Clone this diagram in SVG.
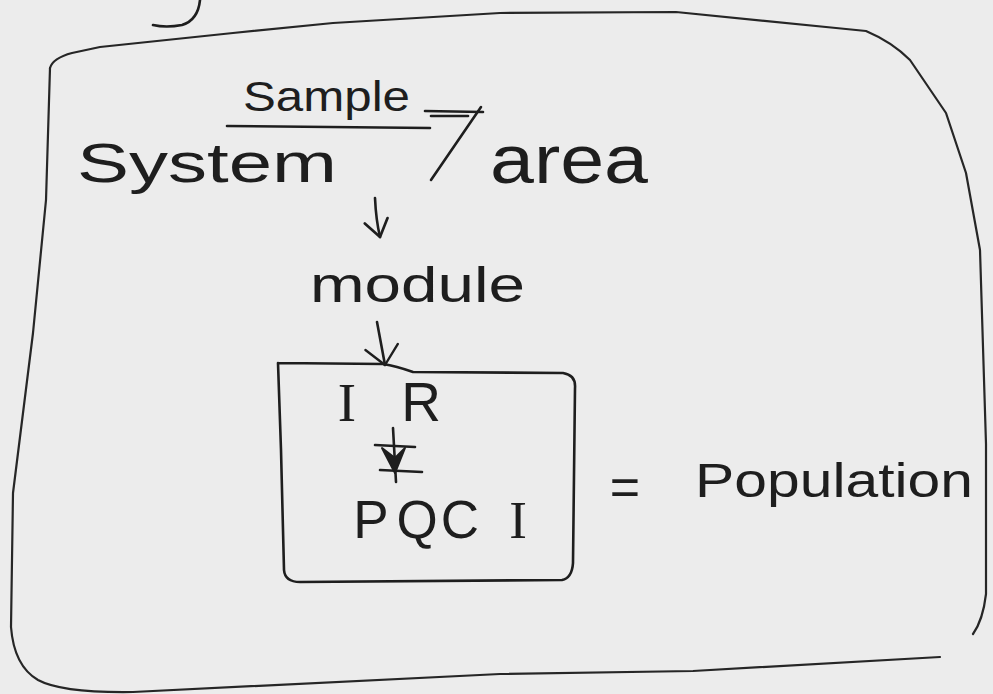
<svg xmlns="http://www.w3.org/2000/svg" width="993" height="694" viewBox="0 0 993 694">
<style>
.ink{fill:none;stroke:#1e1e1e;stroke-width:2.6;stroke-linecap:round;stroke-linejoin:round}
.thin{fill:none;stroke:#262626;stroke-width:2.2;stroke-linecap:round;stroke-linejoin:round}
.t{font-family:"Liberation Sans","DejaVu Sans",sans-serif;fill:#1e1e1e}
.s{font-family:"Liberation Serif","DejaVu Serif",serif}
</style>
<defs>
<marker id="vhead" viewBox="0 0 12 16" refX="11" refY="8" markerWidth="20" markerHeight="27" markerUnits="userSpaceOnUse" orient="auto">
<path d="M1,1 L11,8 L1,15" fill="none" stroke="#1e1e1e" stroke-width="1.6" stroke-linecap="round" stroke-linejoin="round"/>
</marker>
<marker id="vwide" viewBox="0 0 12 20" refX="11" refY="10" markerWidth="22" markerHeight="40" markerUnits="userSpaceOnUse" orient="auto">
<path d="M1,1 L11,10 L1,19" fill="none" stroke="#1e1e1e" stroke-width="1.3" stroke-linecap="round" stroke-linejoin="round"/>
</marker>
</defs>
<rect width="993" height="694" fill="#ececec"/>

<!-- stray stroke from text above (cut off) -->
<path class="ink" d="M200,0 Q198,20 182,25 Q166,28 153,25"/>

<g id="frame">
<path class="thin" d="M50,68 Q53,58 72,53 L100,47 L233,33 L333,23 L500,13 L676,12 L836,28 L866,31 Q892,42 910,60 L946,113 L966,173 L980,250 L986,444 L986,594 Q983,620 973,634"/>
<path class="thin" d="M940,657 L693,671 L500,674 L133,692 Q62,693 38,680 Q14,666 11,627 L13,493 L33,333 L46,200 L50,68"/>
</g>

<g id="system">
<text class="t" x="77" y="182" font-size="56" textLength="260" lengthAdjust="spacingAndGlyphs">System</text>
</g>
<g id="area">
<text class="t" x="490" y="183" font-size="68" textLength="158" lengthAdjust="spacingAndGlyphs">area</text>
</g>
<g id="module">
<text class="t" x="310" y="302" font-size="50" textLength="215" lengthAdjust="spacingAndGlyphs">module</text>
</g>
<g id="population-box">
<path class="ink" d="M278,363 L383,364 Q396,366 413,372 L563,373 Q576,375 575,388 L573,563 Q572,578 562,580 L300,582 Q285,582 284,570 L281,450 L278,363"/>
<text class="t" y="421" font-size="55" text-anchor="middle"><tspan class="s" x="347">I</tspan><tspan x="421">R</tspan></text>
<text class="t" y="538" font-size="53" text-anchor="middle"><tspan x="371">P</tspan><tspan x="417">Q</tspan><tspan x="460">C</tspan><tspan class="s" x="518">I</tspan></text>
</g>
<g id="population">
<text class="t" x="625" y="505" font-size="52" text-anchor="middle">=</text>
<text class="t" x="695" y="497" font-size="49" textLength="278" lengthAdjust="spacingAndGlyphs">Population</text>
</g>

<g id="connectors">
<text class="t" x="243" y="111" font-size="42" textLength="167" lengthAdjust="spacingAndGlyphs">Sample</text>
<path class="ink" d="M227,126 L430,128"/>
<path class="ink" d="M425,111 L483,112" stroke-width="3.5"/>
<path class="ink" d="M431,116 L468,116" stroke-width="3.5"/>
<path class="ink" d="M481,107 L431,180"/>
<path class="ink" d="M375,198 Q376,220 380,237" marker-end="url(#vhead)"/>
<path class="ink" d="M377,322 L385,365" marker-end="url(#vwide)"/>
<path class="ink" d="M393,428 L396,482"/>
<path d="M382,448 L395,473 L405,448 L395,458 Z" fill="#1e1e1e" stroke="#1e1e1e" stroke-width="2" stroke-linejoin="round"/>
<path class="ink" d="M375,445 L415,447"/>
<path class="ink" d="M380,470 L422,472"/>
</g>
</svg>
